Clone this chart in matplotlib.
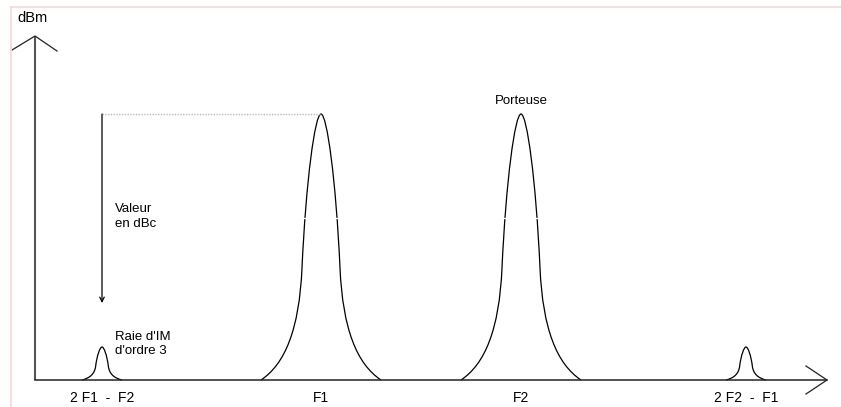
import matplotlib
matplotlib.use("Agg")
import matplotlib.pyplot as plt
from matplotlib.path import Path
from matplotlib.patches import PathPatch
from matplotlib.lines import Line2D

plt.rcParams['font.family'] = ['Liberation Sans', 'DejaVu Sans']

# schematic spectrum: position along frequency axis, level above the floor
peak_names = ["2 F1  -  F2", "F1", "F2", "2 F2  -  F1"]
peak_pos = [67, 286, 486, 711]
peak_level = [33, 266, 266, 33]
peak_halfwidth = [20, 60, 60, 20]

# half-profile of one line (offset / halfwidth, level fraction) as bezier control points
prof_dx = [0.0, 0.1, 0.25, 0.317, 0.363, 0.6, 1.0]
prof_h = [1.0, 1.0, 0.75, 0.42, 0.19, 0.06, 0.0]

fig = plt.figure(figsize=(8.41, 4.07), dpi=100)
ax = fig.add_axes([0, 0, 1, 1])
ax.set_xlim(-35, 806)
ax.set_ylim(-27, 380)
ax.axis('off')

# faint frame of the original drawing
fig.add_artist(Line2D([11 / 841, 11 / 841], [0, 1 - 7 / 407], color='#f6d8d8', lw=1.2))
fig.add_artist(Line2D([11 / 841, 1], [1 - 7 / 407, 1 - 7 / 407], color='#f6d8d8', lw=1.2))

# axes with open arrow heads
ax.plot([0, 0], [0, 344], color='#555555', lw=1.5, solid_capstyle='butt')
ax.plot([-23, 0, 22], [330, 344, 329], color='#222222', lw=0.9)
ax.plot([0, 792], [0, 0], color='#222222', lw=1.1)
ax.plot([771, 792, 771], [14, 0, -14], color='#222222', lw=0.9)

for x0, lvl, hw in zip(peak_pos, peak_level, peak_halfwidth):
    right = [(x0 + d * hw, h * lvl) for d, h in zip(prof_dx, prof_h)]
    left = [(x0 - d * hw, h * lvl) for d, h in zip(prof_dx, prof_h)][::-1]
    verts = left + right[1:]
    codes = [Path.MOVETO] + [Path.CURVE4] * (len(verts) - 1)
    ax.add_patch(PathPatch(Path(verts, codes), fill=False, edgecolor='black', lw=0.9))
    if lvl > 100:
        # the original drawing has a small break in each flank
        ax.plot([x0 - 0.45 * hw, x0 + 0.45 * hw], [0.61 * lvl] * 2, color='white', lw=0.8)

for name, x0 in zip(peak_names, peak_pos):
    ax.text(x0, -11, name, ha='center', va='top', fontsize=10)

# dBc measurement from carrier level down to the IM3 line
ax.plot([peak_pos[0], peak_pos[1]], [peak_level[1], peak_level[1]],
        color='#bbbbbb', lw=1, ls=(0, (1, 1)))
ax.annotate("", xy=(peak_pos[0], 77), xytext=(peak_pos[0], peak_level[1]),
            arrowprops=dict(arrowstyle='->', color='black', lw=0.9,
                            mutation_scale=8, shrinkA=0, shrinkB=0))

ax.text(-18, 358, "dBm", ha='left', va='baseline', fontsize=10.5)
ax.text(80, 177, "Valeur\nen dBc", ha='left', va='top', fontsize=9.5, linespacing=1.3)
ax.text(80, 49, "Raie d'IM\nd'ordre 3", ha='left', va='top', fontsize=9.5, linespacing=1.2)
ax.text(peak_pos[2], 285, "Porteuse", ha='center', va='top', fontsize=9.5)

fig.savefig("out.png", dpi=100, facecolor='white')
